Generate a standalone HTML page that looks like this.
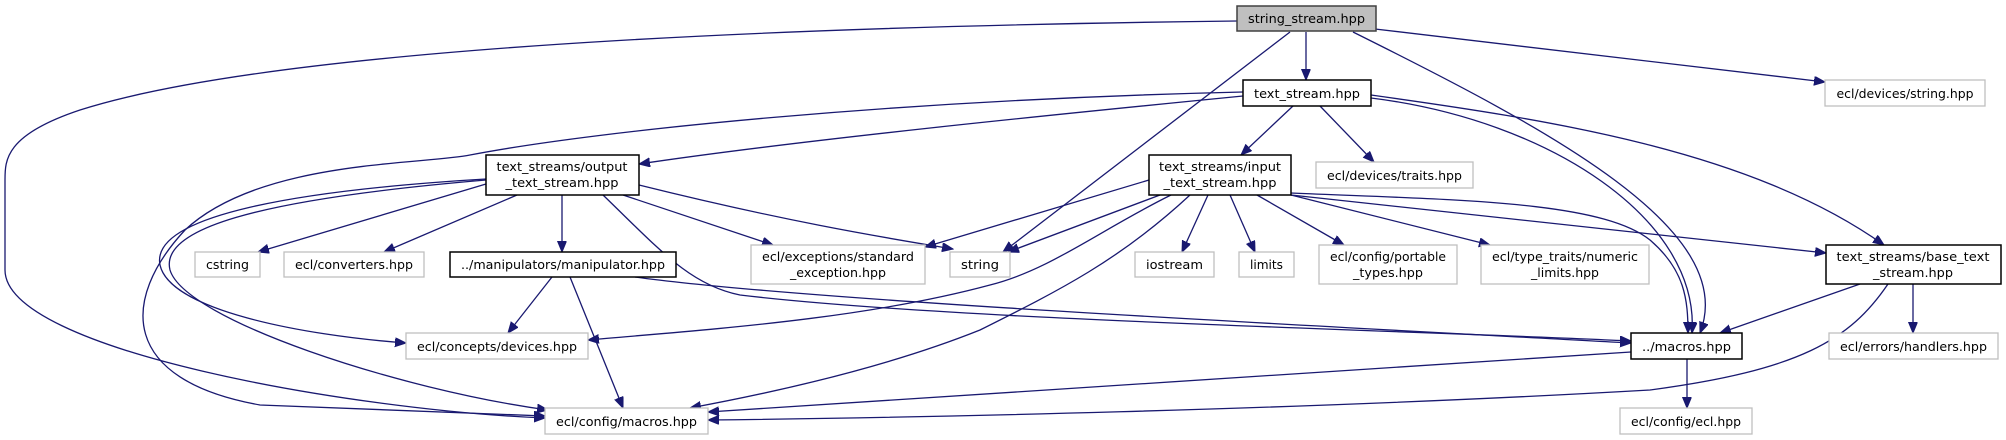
<!DOCTYPE html>
<html><head><meta charset="utf-8"><style>
html,body{margin:0;padding:0;background:#fff;}
svg{display:block;}
text{font-family:"DejaVu Sans","Liberation Sans",sans-serif;font-size:12px;fill:#000;}
.e{fill:none;stroke:#191970;stroke-width:1.3;}
.n{fill:#fff;stroke:#000;stroke-width:1.5;}
.g{fill:#fff;stroke:#bfbfbf;stroke-width:1.3;}
</style></head><body>
<svg width="2006" height="440" viewBox="0 0 2006 440" xmlns="http://www.w3.org/2000/svg">
<defs>
<marker id="a" markerUnits="userSpaceOnUse" markerWidth="12" markerHeight="10" refX="11" refY="4.5" orient="auto">
<path d="M0,0 L11,4.5 L0,9 z" fill="#191970" stroke="#191970"/>
</marker>
</defs>
<g marker-end="url(#a)">
<path class="e" d="M1306,32 L1306,80"/>
<path class="e" d="M1290,32 L1003,252"/>
<path class="e" d="M1375,29 L1825,82"/>
<path class="e" d="M1353,32 C1550,130 1740,230 1700,333"/>
<path class="e" d="M1237,21 C900,25 300,40 80,110 C5,135 5,160 5,180 L5,270 C5,350 350,410 545,418"/>
<path class="e" d="M1243,96 C1050,115 800,140 639,164"/>
<path class="e" d="M1243,92 C900,100 600,130 470,155 C420,165 260,160 185,230 C120,300 120,380 260,405 L545,416"/>
<path class="e" d="M1293,106 L1241,155"/>
<path class="e" d="M1320,106 L1374,162"/>
<path class="e" d="M1371,98 C1550,120 1700,220 1692,333"/>
<path class="e" d="M1371,95 C1550,120 1750,150 1884,245"/>
<path class="e" d="M486,184 L258,252"/>
<path class="e" d="M517,195 L384,252"/>
<path class="e" d="M562,195 L562,252"/>
<path class="e" d="M623,195 L773,245"/>
<path class="e" d="M639,185 C800,225 900,240 953,249"/>
<path class="e" d="M603,195 C660,250 690,285 740,295 C950,320 1400,330 1631,341"/>
<path class="e" d="M486,179 C300,190 150,215 160,265 C170,310 300,335 406,343"/>
<path class="e" d="M486,180 C250,200 160,230 170,270 C185,320 400,390 548,410"/>
<path class="e" d="M552,277 L508,333"/>
<path class="e" d="M570,277 L623,408"/>
<path class="e" d="M635,277 C800,300 1300,325 1631,343"/>
<path class="e" d="M1149,180 L925,247"/>
<path class="e" d="M1160,195 L1008,252"/>
<path class="e" d="M1171,195 C1100,230 1050,270 990,285 C860,320 700,330 588,340"/>
<path class="e" d="M1190,195 C1120,260 1060,290 980,330 C880,370 760,395 690,408"/>
<path class="e" d="M1208,195 L1182,252"/>
<path class="e" d="M1230,195 L1255,252"/>
<path class="e" d="M1257,195 L1344,245"/>
<path class="e" d="M1291,195 L1490,245"/>
<path class="e" d="M1291,195 L1826,253"/>
<path class="e" d="M1291,193 C1450,200 1600,200 1650,240 C1685,270 1688,300 1688,333"/>
<path class="e" d="M1860,284 L1720,333"/>
<path class="e" d="M1913,284 L1913,333"/>
<path class="e" d="M1888,284 C1850,340 1800,370 1650,390 C1300,410 900,418 708,420"/>
<path class="e" d="M1631,352 L708,412"/>
<path class="e" d="M1687,359 L1687,408"/>
</g>
<!-- nodes -->
<rect x="1237" y="6" width="139" height="25" fill="#bfbfbf" stroke="#404040" stroke-width="1.5"/>
<text x="1306.5" y="23" text-anchor="middle" textLength="117" lengthAdjust="spacingAndGlyphs">string_stream.hpp</text>

<rect class="n" x="1243" y="80" width="128" height="26"/>
<text x="1307" y="98" text-anchor="middle" textLength="106" lengthAdjust="spacingAndGlyphs">text_stream.hpp</text>

<rect class="g" x="1825" y="80" width="160" height="26"/>
<text x="1905" y="98" text-anchor="middle" textLength="137" lengthAdjust="spacingAndGlyphs">ecl/devices/string.hpp</text>

<rect class="n" x="486" y="155" width="153" height="40"/>
<text x="562" y="171" text-anchor="middle" textLength="131" lengthAdjust="spacingAndGlyphs">text_streams/output</text>
<text x="562" y="187" text-anchor="middle" textLength="113" lengthAdjust="spacingAndGlyphs">_text_stream.hpp</text>

<rect class="n" x="1149" y="155" width="142" height="40"/>
<text x="1220" y="171" text-anchor="middle" textLength="122" lengthAdjust="spacingAndGlyphs">text_streams/input</text>
<text x="1220" y="187" text-anchor="middle" textLength="113" lengthAdjust="spacingAndGlyphs">_text_stream.hpp</text>

<rect class="g" x="1316" y="162" width="157" height="26"/>
<text x="1394.5" y="180" text-anchor="middle" textLength="135" lengthAdjust="spacingAndGlyphs">ecl/devices/traits.hpp</text>

<rect class="g" x="195" y="252" width="65" height="25"/>
<text x="227.5" y="269" text-anchor="middle" textLength="43" lengthAdjust="spacingAndGlyphs">cstring</text>

<rect class="g" x="284" y="252" width="140" height="25"/>
<text x="354" y="269" text-anchor="middle" textLength="118" lengthAdjust="spacingAndGlyphs">ecl/converters.hpp</text>

<rect class="n" x="450" y="252" width="226" height="25"/>
<text x="563" y="269" text-anchor="middle" textLength="204" lengthAdjust="spacingAndGlyphs">../manipulators/manipulator.hpp</text>

<rect class="g" x="751" y="245" width="174" height="39"/>
<text x="838" y="261" text-anchor="middle" textLength="152" lengthAdjust="spacingAndGlyphs">ecl/exceptions/standard</text>
<text x="838" y="277" text-anchor="middle" textLength="96" lengthAdjust="spacingAndGlyphs">_exception.hpp</text>

<rect class="g" x="950" y="252" width="60" height="25"/>
<text x="980" y="269" text-anchor="middle" textLength="38" lengthAdjust="spacingAndGlyphs">string</text>

<rect class="g" x="1135" y="252" width="79" height="25"/>
<text x="1174.5" y="269" text-anchor="middle" textLength="57" lengthAdjust="spacingAndGlyphs">iostream</text>

<rect class="g" x="1239" y="252" width="55" height="25"/>
<text x="1266.5" y="269" text-anchor="middle" textLength="33" lengthAdjust="spacingAndGlyphs">limits</text>

<rect class="g" x="1319" y="245" width="138" height="39"/>
<text x="1388" y="261" text-anchor="middle" textLength="116" lengthAdjust="spacingAndGlyphs">ecl/config/portable</text>
<text x="1388" y="277" text-anchor="middle" textLength="70" lengthAdjust="spacingAndGlyphs">_types.hpp</text>

<rect class="g" x="1481" y="245" width="168" height="39"/>
<text x="1565" y="261" text-anchor="middle" textLength="146" lengthAdjust="spacingAndGlyphs">ecl/type_traits/numeric</text>
<text x="1565" y="277" text-anchor="middle" textLength="68" lengthAdjust="spacingAndGlyphs">_limits.hpp</text>

<rect class="n" x="1826" y="245" width="175" height="39"/>
<text x="1913" y="261" text-anchor="middle" textLength="153" lengthAdjust="spacingAndGlyphs">text_streams/base_text</text>
<text x="1913" y="277" text-anchor="middle" textLength="80" lengthAdjust="spacingAndGlyphs">_stream.hpp</text>

<rect class="g" x="406" y="333" width="182" height="26"/>
<text x="497" y="351" text-anchor="middle" textLength="160" lengthAdjust="spacingAndGlyphs">ecl/concepts/devices.hpp</text>

<rect class="n" x="1631" y="333" width="111" height="26"/>
<text x="1686.5" y="351" text-anchor="middle" textLength="89" lengthAdjust="spacingAndGlyphs">../macros.hpp</text>

<rect class="g" x="1829" y="333" width="169" height="26"/>
<text x="1913.5" y="351" text-anchor="middle" textLength="147" lengthAdjust="spacingAndGlyphs">ecl/errors/handlers.hpp</text>

<rect class="g" x="545" y="408" width="163" height="26"/>
<text x="626.5" y="426" text-anchor="middle" textLength="141" lengthAdjust="spacingAndGlyphs">ecl/config/macros.hpp</text>

<rect class="g" x="1620" y="408" width="132" height="26"/>
<text x="1686" y="426" text-anchor="middle" textLength="110" lengthAdjust="spacingAndGlyphs">ecl/config/ecl.hpp</text>
</svg>
</body></html>
